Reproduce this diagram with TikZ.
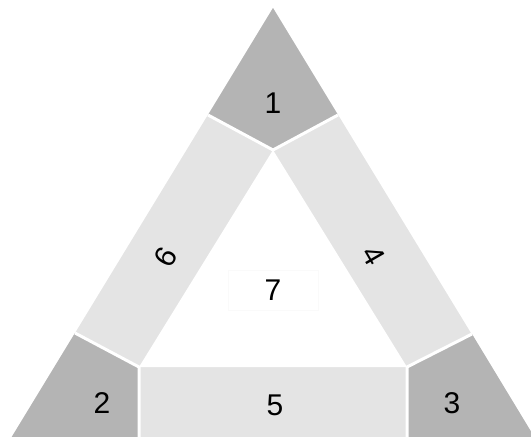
\documentclass[tikz,border=0pt]{standalone}
\usepackage{fontspec}
\setmainfont{Liberation Sans}
\definecolor{cornergray}{HTML}{B4B4B4}
\definecolor{bandgray}{HTML}{E4E4E4}
\begin{document}
\begin{tikzpicture}[x=1pt,y=-1pt,
  corner/.style={fill=cornergray},
  band/.style={fill=bandgray},
  seam/.style={draw=white,line width=3pt},
  num/.style={font=\fontsize{30}{36}\selectfont,text=black,inner sep=0pt}]
  \useasboundingbox (0,0) rectangle (531,437);
  \clip (0,0) rectangle (531,437);
  % outer triangle and its key points
  \coordinate (apex) at (273,8);
  \coordinate (bl) at (5,448);
  \coordinate (br) at (541,448);
  \coordinate (tl) at (208,115);
  \coordinate (tr) at (338,115);
  \coordinate (ml) at (75,333);
  \coordinate (mr) at (472,334);
  % inner triangle
  \coordinate (itop) at (273,150);
  \coordinate (ibl) at (139,367);
  \coordinate (ibr) at (407,367);
  \coordinate (bbl) at (139,448);
  \coordinate (bbr) at (407,448);
  % bands
  \fill[band] (apex) -- (bl) -- (br) -- cycle;
  % corners
  \fill[corner] (apex) -- (tl) -- (itop) -- (tr) -- cycle;
  \fill[corner] (ml) -- (ibl) -- (bbl) -- (bl) -- cycle;
  \fill[corner] (mr) -- (ibr) -- (bbr) -- (br) -- cycle;
  % centre
  \fill[white] (itop) -- (ibl) -- (ibr) -- cycle;
  % white seams between the pieces
  \draw[seam] (tl) -- (itop) -- (tr);
  \draw[seam] (ml) -- (ibl) -- (bbl);
  \draw[seam] (mr) -- (ibr) -- (bbr);
  % labels
  \node[num] (n1) at (273,103) {1};
  \node[num] (n2) at (102,403) {2};
  \node[num] (n3) at (452,403) {3};
  \node[num,rotate=-60] (n4) at (374,256) {4};
  \node[num] (n5) at (275,405) {5};
  \node[num,rotate=60] (n6) at (166,257) {6};
  \node[num,draw=black!2,line width=0.5pt,minimum width=90pt,minimum height=40pt] (n7) at (273,290) {7};
\end{tikzpicture}
\end{document}
